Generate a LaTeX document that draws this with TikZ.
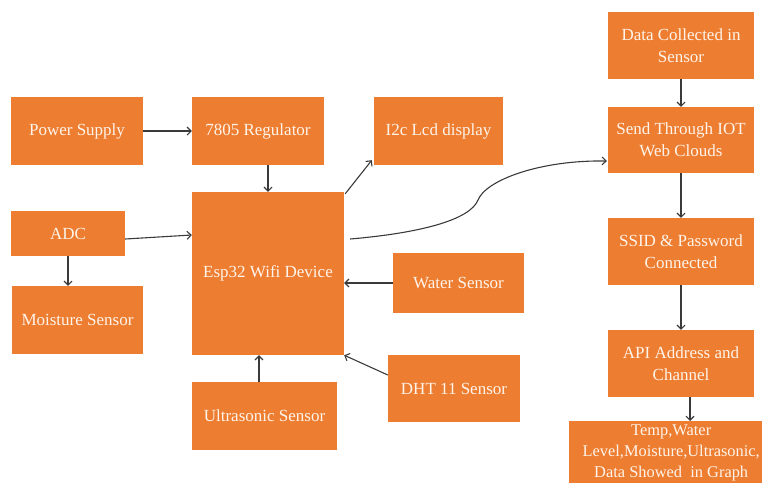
\documentclass[tikz,border=0pt]{standalone}
\usepackage{fontspec}
\setmainfont{Liberation Serif}
\usetikzlibrary{arrows.meta,calc}
\definecolor{boxorange}{HTML}{ED7D31}
\definecolor{boxtext}{HTML}{FFF4EA}
\definecolor{linegray}{HTML}{3A3A3A}
\begin{document}
\begin{tikzpicture}[x=1pt,y=-1pt,
  blk/.style={draw=none,fill=boxorange,text=boxtext,font=\fontsize{17}{22}\selectfont,align=center,inner sep=0pt},
  conn/.style={draw=linegray,line width=1.1pt,-{Straight Barb[length=4pt,width=8pt]}}]
\useasboundingbox (0,0) rectangle (762,482);
\clip (0,0) rectangle (762,482);
% left / centre blocks
\node[blk,minimum width=132pt,minimum height=68pt] (ps) at (77,131) {Power Supply};
\node[blk,minimum width=132pt,minimum height=68pt] (reg) at (258,131) {7805 Regulator};
\node[blk,minimum width=129pt,minimum height=68pt] (lcd) at (438.5,131) {I2c Lcd display};
\node[blk,minimum width=114pt,minimum height=45pt] (adc) at (68,233.5) {ADC};
\node[blk,minimum width=152pt,minimum height=163pt] (esp) at (268,273.5) {Esp32 Wifi Device};
\node[blk,minimum width=131pt,minimum height=68pt] (moist) at (77.5,320) {Moisture Sensor};
\node[blk,minimum width=131pt,minimum height=60pt] (water) at (458.5,283) {Water Sensor};
\node[blk,minimum width=145pt,minimum height=68pt] (ultra) at (264.5,416) {Ultrasonic Sensor};
\node[blk,minimum width=132pt,minimum height=67pt] (dht) at (454,388.5) {DHT 11 Sensor};
% right column
\node[blk,minimum width=146pt,minimum height=67pt] (data) at (681,45.5) {Data Collected in\\Sensor};
\node[blk,minimum width=146pt,minimum height=66pt] (send) at (681,140) {Send Through IOT\\Web Clouds};
\node[blk,minimum width=146pt,minimum height=67pt] (ssid) at (681,251.5) {SSID \& Password\\Connected};
\node[blk,minimum width=146pt,minimum height=67pt] (api) at (681,363.5) {API Address and\\Channel};
\node[blk,font=\fontsize{16.4}{21}\selectfont,minimum width=204pt,inner ysep=4pt,anchor=north west] (temp) at (569,421) {Temp,Water\\Level,Moisture,Ultrasonic,\\Data Showed\ \ in Graph};
% connectors
\draw[conn] (ps.east) -- (reg.west);
\draw[conn] (esp.north |- reg.south) -- (esp.north);
\draw[conn] ([shift={(1pt,-2pt)}]esp.north east) -- ([shift={(-2pt,5pt)}]lcd.south west);
\draw[conn] ([yshift=-5.5pt]adc.east) -- ([yshift=38.5pt]esp.west);
\draw[conn] (adc.south) -- (adc.south |- moist.north);
\coordinate (cs) at ([shift={(6pt,34.5pt)}]esp.east);
\coordinate (cm) at (478,200);
\draw[conn] (cs) .. controls (420,233) and (470,220) .. (cm)
  .. controls (486,180) and (540,160) .. ([shift={(-1pt,-21pt)}]send.west);
\draw[conn] (water.west) -- (water.west -| esp.east);
\draw[conn] ([xshift=-5.5pt]ultra.north) -- ([xshift=-5.5pt]ultra.north |- esp.south);
\draw[conn] ([yshift=13.5pt]dht.west) -- (esp.south east);
\draw[conn] (data.south) -- (send.north);
\draw[conn] (send.south) -- (ssid.north);
\draw[conn] (ssid.south) -- (api.north);
\draw[conn] ([xshift=9pt]api.south) -- ([xshift=9pt]api.south |- temp.north);
\end{tikzpicture}
\end{document}
